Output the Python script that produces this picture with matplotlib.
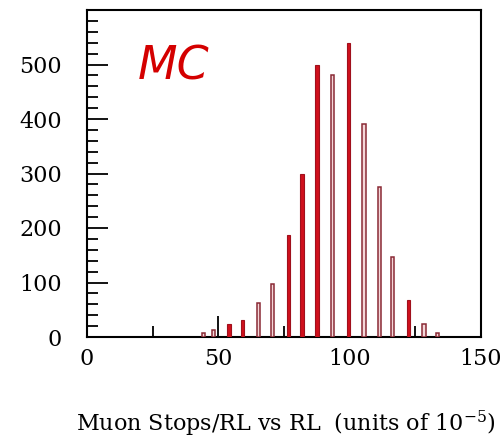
import matplotlib
matplotlib.use("Agg")
import matplotlib.pyplot as plt
from matplotlib.ticker import MultipleLocator

plt.rcParams["mathtext.fontset"] = "custom"
plt.rcParams["mathtext.rm"] = "DejaVu Serif"

# Filled (solid red) bars
filled_x = [54.0, 59.1, 76.8, 81.8, 87.5, 99.6, 122.3]
filled_y = [23, 31, 187, 299, 500, 539, 68]
# Hollow (outlined) bars
hollow_x = [44.3, 48.1, 65.2, 70.7, 93.5, 105.4, 111.3, 116.2, 128.3, 133.4]
hollow_y = [7, 12, 62, 98, 481, 390, 275, 146, 23, 7]

xticks = [0, 50, 100, 150]
yticks = [0, 100, 200, 300, 400, 500]

fig = plt.figure(figsize=(5.04, 4.4), dpi=100)
ax = fig.add_axes([87/504, 1-337/440, (481-87)/504, (337-10)/440])

bw = 1.3
ax.bar(filled_x, filled_y, width=bw, color="#d0101c", edgecolor="#a0101c", linewidth=0.8, zorder=3)
ax.bar(hollow_x, hollow_y, width=bw, color="#f4d6d8", edgecolor="#8a2a35", linewidth=1.1, zorder=3)

ax.set_xlim(0, 150)
ax.set_ylim(0, 600)
ax.set_xticks(xticks)
ax.set_yticks(yticks)
ax.xaxis.set_minor_locator(MultipleLocator(25))
ax.yaxis.set_minor_locator(MultipleLocator(20))
ax.tick_params(which="major", direction="in", length=15, width=1.3, color="black",
               labelsize=16)
ax.tick_params(which="minor", direction="in", length=8, width=1.3, color="black")
ax.tick_params(axis="x", which="major", pad=8)
ax.tick_params(axis="y", which="major", pad=18)
for lab in ax.get_xticklabels() + ax.get_yticklabels():
    lab.set_fontfamily("DejaVu Serif")
for s in ax.spines.values():
    s.set_linewidth(1.5)

fig.text(138/504, 1-79/440, "MC", color="#d40000", fontsize=33, fontstyle="italic",
         family="DejaVu Sans")

fig.text(0.568, 1-424/440, r"Muon Stops/RL vs RL  (units of 10$^{-5}$)", ha="center", va="center",
         fontsize=16, family="DejaVu Serif")

fig.savefig("out.png", dpi=100)
